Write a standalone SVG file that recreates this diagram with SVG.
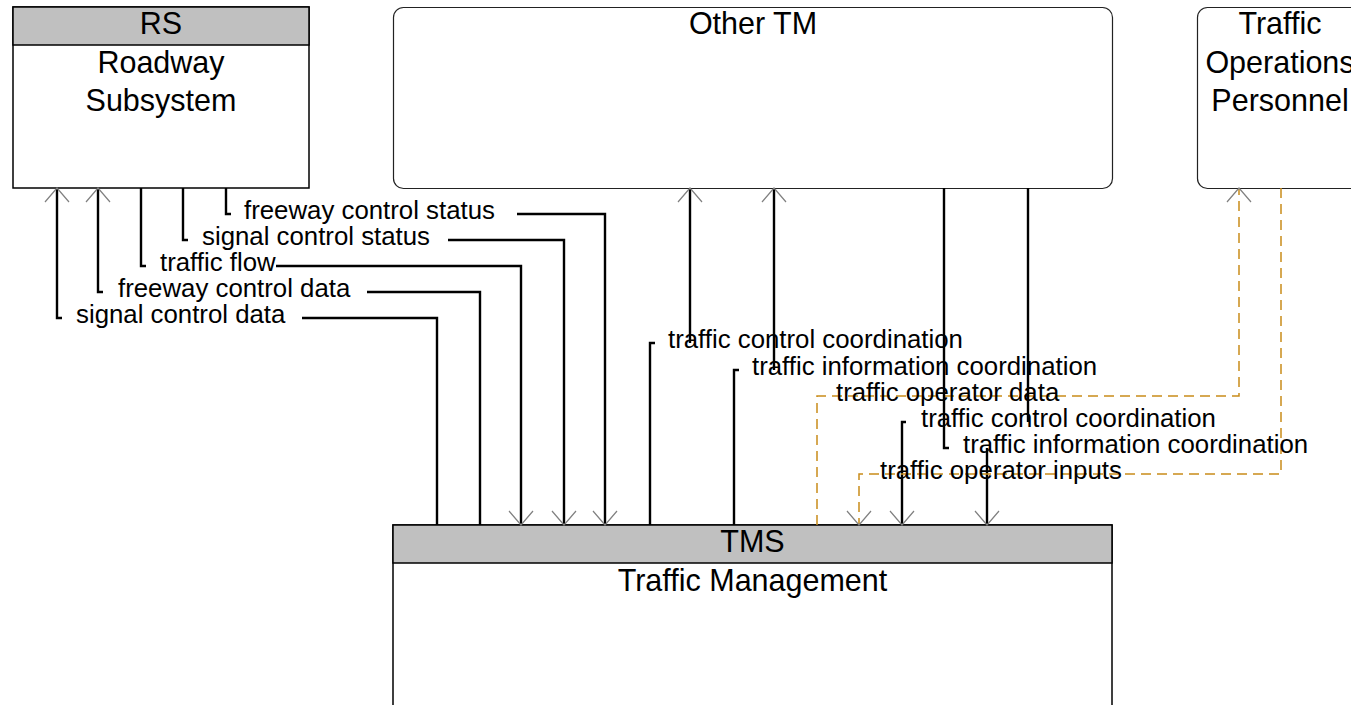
<svg xmlns="http://www.w3.org/2000/svg" width="1351" height="705" viewBox="0 0 1351 705">
<style>
text { font-family: "Liberation Sans", Arial, sans-serif; fill: #000; }
.node { font-size: 30.5px; text-anchor: middle; }
.lbl { font-size: 25.8px; }
.box { fill: #fff; stroke: #000; stroke-width: 1.5; }
.hdr { fill: #c0c0c0; stroke: #000; stroke-width: 1.5; }
.rbox { fill: #fff; stroke: #222; stroke-width: 1.2; }
.flow { fill: none; stroke: #000; stroke-width: 2.4; }
.dash { fill: none; stroke: #c98c1a; stroke-width: 1.5; stroke-dasharray: 10 6; }
</style>
<defs>
<marker id="arr" markerUnits="userSpaceOnUse" viewBox="0 -13 16 26" markerWidth="16" markerHeight="26" refX="14" refY="0" orient="auto" overflow="visible">
<path d="M0,-12 L14,0 L0,12" fill="none" stroke="#808080" stroke-width="1.2" stroke-dasharray="none"/>
</marker>
</defs>
<rect width="1351" height="705" fill="#fff"/>

<g id="node-rs">
<rect class="box" x="13" y="7" width="296" height="181"/>
<rect class="hdr" x="13" y="7" width="296" height="38"/>
<text class="node" x="161" y="34">RS</text>
<text class="node" x="161" y="73">Roadway</text>
<text class="node" x="161" y="111">Subsystem</text>
</g>

<g id="node-other-tm">
<rect class="rbox" x="393.5" y="7.5" width="719" height="181" rx="10"/>
<text class="node" x="753" y="34">Other TM</text>
</g>

<g id="node-traffic-ops">
<rect class="rbox" x="1197.5" y="7.5" width="170" height="181" rx="10"/>
<text class="node" x="1280" y="34">Traffic</text>
<text class="node" x="1280" y="73">Operations</text>
<text class="node" x="1280" y="111">Personnel</text>
</g>

<g id="node-tms">
<rect class="box" x="393" y="525" width="719" height="200"/>
<rect class="hdr" x="393" y="525" width="719" height="38"/>
<text class="node" x="752.5" y="552">TMS</text>
<text class="node" x="752.5" y="591">Traffic Management</text>
</g>

<g id="connectors">
<!-- signal control data: TMS -> RS -->
<path class="flow" d="M437,525 V318 H302"/>
<path class="flow" d="M62,318 H57 V188" marker-end="url(#arr)"/>
<!-- freeway control data: TMS -> RS -->
<path class="flow" d="M480,525 V292 H367"/>
<path class="flow" d="M103,292 H98 V188" marker-end="url(#arr)"/>
<!-- traffic flow: RS -> TMS -->
<path class="flow" d="M141,188 V266 H146"/>
<path class="flow" d="M276,266 H521 V525" marker-end="url(#arr)"/>
<!-- signal control status: RS -> TMS -->
<path class="flow" d="M183,188 V240 H188"/>
<path class="flow" d="M448,240 H564 V525" marker-end="url(#arr)"/>
<!-- freeway control status: RS -> TMS -->
<path class="flow" d="M226,188 V214 H231"/>
<path class="flow" d="M517,214 H605 V525" marker-end="url(#arr)"/>

<!-- traffic control coordination: TMS -> Other TM -->
<path class="flow" d="M650,525 V343 H655"/>
<path class="flow" d="M690,343 V188" marker-end="url(#arr)"/>
<!-- traffic information coordination: TMS -> Other TM -->
<path class="flow" d="M734,525 V370 H739"/>
<path class="flow" d="M774,370 V188" marker-end="url(#arr)"/>
<!-- traffic operator data: TMS -> Traffic Ops -->
<path class="dash" d="M817,525 V396 H1239 V188" marker-end="url(#arr)"/>
<!-- traffic control coordination: Other TM -> TMS -->
<path class="flow" d="M1028,188 V422"/>
<path class="flow" d="M906,422 H902 V525" marker-end="url(#arr)"/>
<!-- traffic information coordination: Other TM -> TMS -->
<path class="flow" d="M944,188 V448 H949"/>
<path class="flow" d="M987,448 V525" marker-end="url(#arr)"/>
<!-- traffic operator inputs: Traffic Ops -> TMS -->
<path class="dash" d="M1281,188 V474 H859 V525" marker-end="url(#arr)"/>

<text class="lbl" x="244" y="219">freeway control status</text>
<text class="lbl" x="202" y="245">signal control status</text>
<text class="lbl" x="160" y="271">traffic flow</text>
<text class="lbl" x="118" y="297">freeway control data</text>
<text class="lbl" x="76" y="323">signal control data</text>
<text class="lbl" x="668" y="348">traffic control coordination</text>
<text class="lbl" x="752" y="375">traffic information coordination</text>
<text class="lbl" x="836" y="401">traffic operator data</text>
<text class="lbl" x="921" y="427">traffic control coordination</text>
<text class="lbl" x="963" y="453">traffic information coordination</text>
<text class="lbl" x="880" y="479">traffic operator inputs</text>
</g>
</svg>
